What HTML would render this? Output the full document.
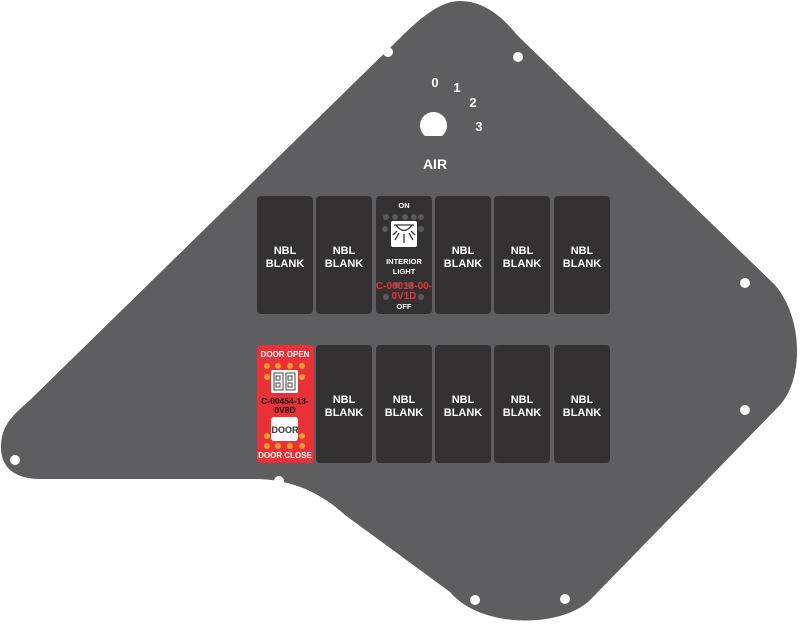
<!DOCTYPE html>
<html><head><style>
body{margin:0;background:#fff;width:800px;height:624px;overflow:hidden}
svg{display:block}
text{font-family:"Liberation Sans",sans-serif;font-weight:bold;text-anchor:middle}
</style></head><body>
<svg width="800" height="624" viewBox="0 0 800 624" xmlns="http://www.w3.org/2000/svg">
<path d="M30,400 L400,38 C428,10 445,1 460,1 C478,1 497,10 517,35 L775,285 C803,318 804,378 780,405 L592,598 C565,628 482,630 450,592 L345,515 C320,492 290,479 255,479 L40,479 C12,479 0,465 1,445 C2,425 12,416 30,400 Z" fill="#5e5e60"/>
<g fill="#fff">
<circle cx="388" cy="52" r="5"/><circle cx="518" cy="57" r="5"/><circle cx="745" cy="283" r="5"/><circle cx="745" cy="410" r="5"/><circle cx="15" cy="460" r="5"/><circle cx="279" cy="481" r="5"/><circle cx="475" cy="600" r="5"/><circle cx="565" cy="599" r="5"/>
<path d="M425,136 A13.5,13.5 0 1 1 442,136 Z"/>
</g>
<g fill="#fff" font-size="13">
<text x="435" y="87">0</text><text x="457" y="92">1</text><text x="473" y="107">2</text><text x="479" y="131">3</text>
<text x="435" y="169" font-size="14">AIR</text>
</g>
<g fill="#333132">
<rect x="257" y="196" width="56" height="118" rx="4"/><rect x="316" y="196" width="56" height="118" rx="4"/><rect x="376" y="196" width="56" height="118" rx="4"/><rect x="435" y="196" width="56" height="118" rx="4"/><rect x="494" y="196" width="56" height="118" rx="4"/><rect x="554" y="196" width="56" height="118" rx="4"/>
<rect x="316" y="345" width="56" height="118" rx="4"/><rect x="376" y="345" width="56" height="118" rx="4"/><rect x="435" y="345" width="56" height="118" rx="4"/><rect x="494" y="345" width="56" height="118" rx="4"/><rect x="554" y="345" width="56" height="118" rx="4"/>
</g>
<g fill="#fff" font-size="11">
<text x="285" y="254">NBL</text><text x="285" y="267">BLANK</text>
<text x="344" y="254">NBL</text><text x="344" y="267">BLANK</text>
<text x="463" y="254">NBL</text><text x="463" y="267">BLANK</text>
<text x="522" y="254">NBL</text><text x="522" y="267">BLANK</text>
<text x="582" y="254">NBL</text><text x="582" y="267">BLANK</text>
<text x="344" y="403">NBL</text><text x="344" y="416">BLANK</text>
<text x="404" y="403">NBL</text><text x="404" y="416">BLANK</text>
<text x="463" y="403">NBL</text><text x="463" y="416">BLANK</text>
<text x="522" y="403">NBL</text><text x="522" y="416">BLANK</text>
<text x="582" y="403">NBL</text><text x="582" y="416">BLANK</text>
</g>
<g fill="#5a5a5c">
<circle cx="386" cy="217" r="3"/><circle cx="395" cy="217" r="3"/><circle cx="405" cy="217" r="3"/><circle cx="414" cy="217" r="3"/><circle cx="421" cy="217" r="3"/>
<circle cx="385" cy="229" r="3"/><circle cx="421" cy="229" r="3"/>
<circle cx="386" cy="297" r="3"/><circle cx="421" cy="297" r="3"/><circle cx="397" cy="285" r="3"/><circle cx="410" cy="285" r="3"/>
</g>
<rect x="391" y="221" width="26" height="26" rx="2" fill="#fff"/>
<g stroke="#333" stroke-width="1.3" fill="none">
<path d="M394,225 H414 M396,225 Q404,236 412,225"/>
<path d="M404,234 V243 M399,233 L395,240 M409,233 L413,240 M397,231 L393,235 M411,231 L415,235"/>
</g>
<g fill="#fff" font-size="7.5" font-weight="normal">
<text x="404" y="208" font-weight="bold">ON</text>
<text x="404" y="264">INTERIOR</text><text x="404" y="274">LIGHT</text>
<text x="404" y="309" font-weight="bold">OFF</text>
</g>
<g fill="#e8323a" font-size="10" font-weight="normal">
<text x="404" y="289">C-00013-00-</text><text x="404" y="299">0V1D</text>
</g>
<rect x="257" y="345" width="57" height="118" rx="4" fill="#e83238"/>
<g fill="#f39a2a">
<circle cx="267" cy="366" r="3"/><circle cx="278" cy="366" r="3"/><circle cx="290" cy="366" r="3"/><circle cx="302" cy="366" r="3"/>
<circle cx="267" cy="377" r="3"/><circle cx="302" cy="377" r="3"/>
<circle cx="267" cy="436" r="3"/><circle cx="302" cy="436" r="3"/>
<circle cx="267" cy="446" r="3"/><circle cx="278" cy="446" r="3"/><circle cx="290" cy="446" r="3"/><circle cx="302" cy="446" r="3"/>
</g>
<rect x="271" y="370" width="27" height="23" rx="2" fill="#fff"/>
<g fill="none" stroke="#444" stroke-width="1">
<rect x="274" y="373" width="9" height="17"/><rect x="286" y="373" width="9" height="17"/>
<rect x="276" y="376" width="4" height="4"/><rect x="276" y="383" width="4" height="4"/><rect x="288" y="376" width="4" height="4"/><rect x="288" y="383" width="4" height="4"/>
</g>
<rect x="271" y="417" width="27" height="24" rx="3" fill="#fff"/>
<text x="285" y="433" font-size="9" fill="#333" font-weight="normal">DOOR</text>
<g fill="#fff" font-size="8">
<text x="285" y="357">DOOR OPEN</text><text x="285" y="458">DOOR CLOSE</text>
</g>
<g fill="#111" font-size="8.5">
<text x="285" y="404">C-00454-13-</text><text x="285" y="413">0V8D</text>
</g>
</svg>
</body></html>
